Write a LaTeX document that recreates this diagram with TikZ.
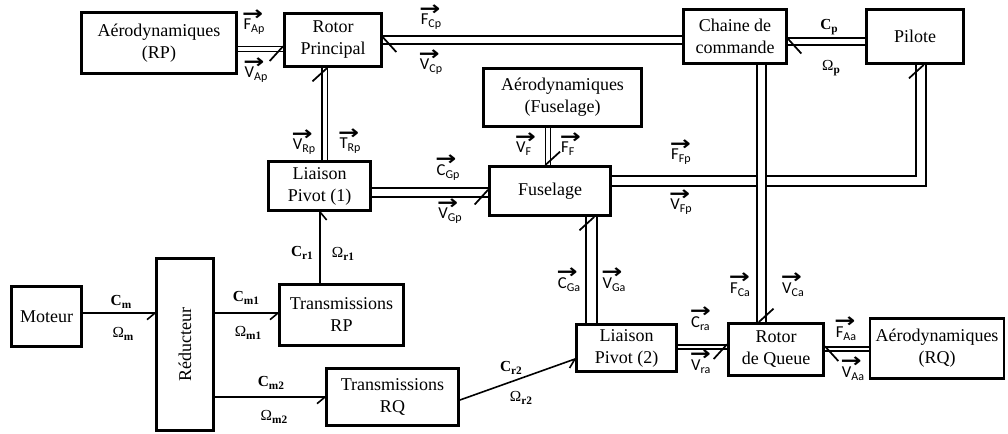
\documentclass[tikz,border=0pt]{standalone}
\usepackage{fontspec}
\usepackage{graphicx}
\setmainfont{Liberation Serif}
\newfontfamily\labf{Carlito}
\newfontfamily\arrf{DejaVu Sans}
\usetikzlibrary{decorations.markings}

% vector label: arrow above letter with subscript
\newcommand\vv[2]{\vbox{\offinterlineskip\halign{##\hfil\cr
  \kern-1pt{\arrf\bfseries\fontsize{13}{13}\selectfont\scalebox{1.45}[1.15]{→}}\cr
  \noalign{\kern-1pt}
  {\labf\fontsize{12.5}{12.5}\selectfont #1\raisebox{-2.5pt}{\fontsize{9}{9}\selectfont #2}}\cr}}}
% bold serif label
\newcommand\bc[2]{{\fontsize{11.5}{11.5}\selectfont\textbf{#1}\raisebox{-2.5pt}{\fontsize{8.5}{8.5}\selectfont\bfseries #2}}}
\newcommand\om[1]{{\fontsize{11.5}{11.5}\selectfont Ω\raisebox{-2.5pt}{\fontsize{8.5}{8.5}\selectfont\bfseries #1}}}

\tikzset{
  blk/.style={draw, line width=2.2pt, align=center, inner sep=1pt,
    font=\fontsize{13.5}{16.5}\selectfont},
  lab/.style={inner sep=0pt},
  dl/.style={double, line width=1.3pt, double distance=#1},
  dl/.default=4pt,
  bL/.style={postaction={decorate,decoration={markings,
    mark=at position 1 with {\draw[line width=1.3pt] (0,-2pt) -- (-10pt,9pt);}}}},
  bR/.style={postaction={decorate,decoration={markings,
    mark=at position 1 with {\draw[line width=1.3pt] (0,2pt) -- (-10pt,-9pt);}}}},
  sl/.style={line width=1.2pt, postaction={decorate,decoration={markings,
    mark=at position 1 with {\draw[line width=1.2pt] (0,0) -- (-6pt,-5pt);}}}},
}

\begin{document}
\begin{tikzpicture}[x=0.75pt, y=-0.75pt]
\useasboundingbox (0,0) rectangle (1008,434);

% blocks
\node[blk, minimum width=116.25pt, minimum height=45.75pt] (aerorp) at (159,43) {Aérodynamiques\\(RP)};
\node[blk, minimum width=72.75pt, minimum height=39.75pt] (rp) at (333,40) {Rotor\\Principal};
\node[blk, minimum width=77.25pt, minimum height=40.5pt] (chaine) at (735,36.5) {Chaine de\\commande};
\node[blk, minimum width=72.75pt, minimum height=40.5pt] (pilote) at (915,36.5) {Pilote};
\node[blk, minimum width=118.5pt, minimum height=43.5pt] (aerof) at (562.5,97.5) {Aérodynamiques\\(Fuselage)};
\node[blk, minimum width=76.5pt, minimum height=36.75pt] (lp1) at (319.5,186) {Liaison\\Pivot (1)};
\node[blk, minimum width=90.75pt, minimum height=36.75pt] (fus) at (550,191) {Fuselage};
\node[blk, minimum width=52.5pt, minimum height=45pt] (moteur) at (46.5,316.5) {Moteur};
\node[blk, minimum width=42.75pt, minimum height=129pt] (red) at (185,344.5) {\rotatebox{90}{Réducteur}};
\node[blk, minimum width=93pt, minimum height=45.75pt] (trp) at (341.5,315) {Transmissions\\RP};
\node[blk, minimum width=99pt, minimum height=42.75pt] (trq) at (392.5,397) {Transmissions\\RQ};
\node[blk, minimum width=75pt, minimum height=35.25pt] (lp2) at (626.5,348) {Liaison\\Pivot (2)};
\node[blk, minimum width=71.25pt, minimum height=39pt] (rq) at (776,349.5) {Rotor\\de Queue};
\node[blk, minimum width=100.5pt, minimum height=45pt] (aerorq) at (937,348.5) {Aérodynamiques\\(RQ)};

% double connectors
\draw[dl=2.4pt, bR] (aerorp.east |- 0,49) -- (rp.west |- 0,49);
\draw[dl=5.2pt, bL] (chaine.west |- 0,40) -- (rp.east |- 0,40);
\draw[dl=3.8pt, bL] (pilote.west |- 0,41.5) -- (chaine.east |- 0,41.5);
\draw[dl=3pt, bL] (lp1.north -| 324.5,0) -- (rp.south -| 324.5,0);
\draw[dl=5pt, bR] (lp1.east |- 0,192.5) -- (fus.west |- 0,192.5);
\draw[dl=2.6pt, bL] (aerof.south -| 548,0) -- (fus.north -| 548,0);
\draw[dl=5.8pt, bL] (fus.east |- 0,181) -| (pilote.south -| 921,0);
\draw[dl=5.7pt, bL] (chaine.south -| 761.5,0) -- (rq.north -| 761.5,0);
\draw[dl=6.8pt, bL] (lp2.north -| 591.5,0) -- (fus.south -| 591.5,0);
\draw[dl=2pt, bR] (lp2.east |- 0,347) -- (rq.west |- 0,347);
\draw[dl=2pt, bL] (aerorq.west |- 0,349) -- (rq.east |- 0,349);

% single connectors
\draw[sl] (moteur.east |- 0,313) -- (red.west |- 0,313);
\draw[sl] (red.east |- 0,313) -- (trp.west |- 0,313);
\draw[sl] (red.east |- 0,397) -- (trq.west |- 0,397);
\draw[sl] (trp.north -| 320,0) -- (lp1.south -| 320,0);
\draw[sl] (trq.east |- 0,400) -- (lp2.west |- 0,359);

% vector labels
\node[lab] (lFAp) at (254,22) {\vv{F}{Ap}};
\node[lab] (lVAp) at (256,70) {\vv{V}{Ap}};
\node[lab] (lFCp) at (431,17) {\vv{F}{Cp}};
\node[lab] (lVCp) at (431,62) {\vv{V}{Cp}};
\node[lab] (lVRp) at (304,142) {\vv{V}{Rp}};
\node[lab] (lTRp) at (350,141) {\vv{T}{Rp}};
\node[lab] (lCGp) at (448,168) {\vv{C}{Gp}};
\node[lab] (lVGp) at (450,211) {\vv{V}{Gp}};
\node[lab] (lVF) at (526,144) {\vv{V}{F}};
\node[lab] (lFF) at (571,144) {\vv{F}{F}};
\node[lab] (lFFp) at (681,152) {\vv{F}{Fp}};
\node[lab] (lVFp) at (681,202) {\vv{V}{Fp}};
\node[lab] (lCGa) at (569,280) {\vv{C}{Ga}};
\node[lab] (lVGa) at (614,280) {\vv{V}{Ga}};
\node[lab] (lFCa) at (740,285) {\vv{F}{Ca}};
\node[lab] (lVCa) at (793,285) {\vv{V}{Ca}};
\node[lab] (lCra) at (701,319) {\vv{C}{ra}};
\node[lab] (lVra) at (701,362) {\vv{V}{ra}};
\node[lab] (lFAa) at (846,329) {\vv{F}{Aa}};
\node[lab] (lVAa) at (853,369) {\vv{V}{Aa}};

% bold serif labels
\node[lab] (lCp) at (829,27) {\bc{C}{p}};
\node[lab] (lOp) at (831,68) {\om{p}};
\node[lab] (lCm) at (121,302) {\bc{C}{m}};
\node[lab] (lOm) at (123,334) {\om{m}};
\node[lab] (lCm1) at (246,298) {\bc{C}{m1}};
\node[lab] (lOm1) at (248,333) {\om{m1}};
\node[lab] (lCm2) at (271,383) {\bc{C}{m2}};
\node[lab] (lOm2) at (274,417) {\om{m2}};
\node[lab] (lCr1) at (302,253) {\bc{C}{r1}};
\node[lab] (lOr1) at (343,254) {\om{r1}};
\node[lab] (lCr2) at (511,368) {\bc{C}{r2}};
\node[lab] (lOr2) at (521,398) {\om{r2}};
\end{tikzpicture}
\end{document}
